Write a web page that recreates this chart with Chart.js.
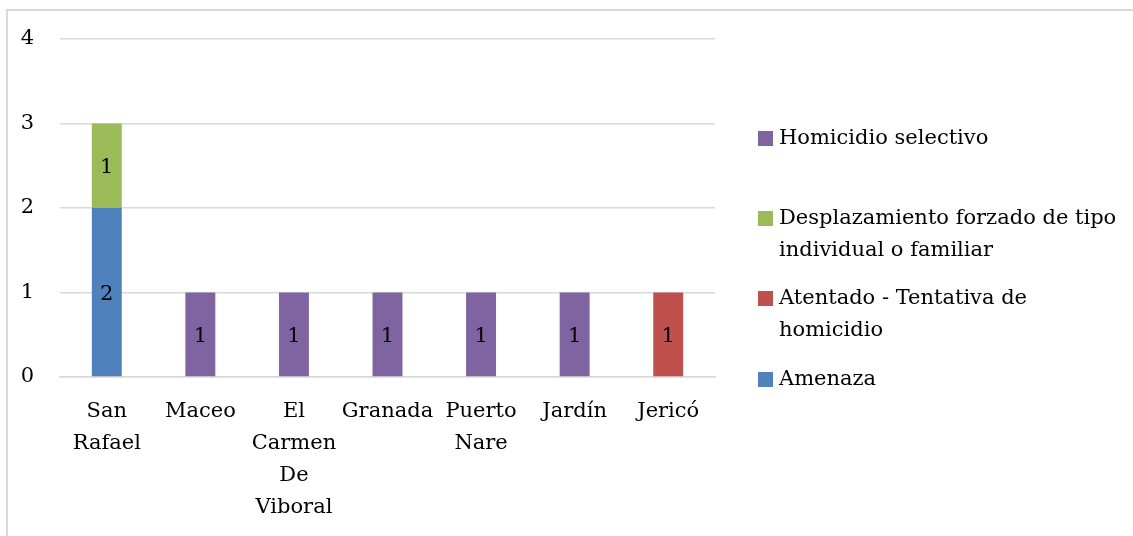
<!DOCTYPE html>
<html>
<head>
<meta charset="utf-8">
<script src="https://cdn.jsdelivr.net/npm/chart.js@4"></script>
<style>
  html, body { margin: 0; padding: 0; background: #fff; }
  #wrap { position: relative; width: 1133px; height: 536px; overflow: hidden; }
  #frame { position: absolute; left: 6px; top: 9px; width: 1200px; height: 600px;
           border-top: 2px solid #d9d9d9; border-left: 2px solid #d9d9d9; box-sizing: border-box; }
  canvas { position: absolute; left: 0; top: 0; }
</style>
</head>
<body>
<div id="wrap">
  <div id="frame"></div>
  <canvas id="c" width="1133" height="536"></canvas>
</div>
<script>
const categories = [["San","Rafael"], "Maceo", ["El","Carmen","De","Viboral"], "Granada", ["Puerto","Nare"], "Jardín", "Jericó"];
const amenaza = [2, 0, 0, 0, 0, 0, 0];
const atentado = [0, 0, 0, 0, 0, 0, 1];
const desplazamiento = [1, 0, 0, 0, 0, 0, 0];
const homicidio = [0, 1, 1, 1, 1, 1, 0];
const yTicks = [0, 1, 2, 3, 4];

const seriesNames = ["Amenaza", "Atentado - Tentativa de homicidio", "Desplazamiento forzado de tipo individual o familiar", "Homicidio selectivo"];
const legendLines = {
  "Homicidio selectivo": ["Homicidio selectivo"],
  "Desplazamiento forzado de tipo individual o familiar": ["Desplazamiento forzado de tipo", "individual o familiar"],
  "Atentado - Tentativa de homicidio": ["Atentado - Tentativa de", "homicidio"],
  "Amenaza": ["Amenaza"]
};
const colors = ["#4F81BD", "#C0504D", "#9BBB59", "#8064A2"];
const FONT = "'DejaVu Serif', serif";
const FS = 21;

const valueLabels = {
  id: 'valueLabels',
  afterDatasetsDraw(chart) {
    const ctx = chart.ctx;
    ctx.save();
    ctx.font = FS + "px " + FONT;
    ctx.fillStyle = "#000";
    ctx.textAlign = "center";
    ctx.textBaseline = "middle";
    chart.data.datasets.forEach((ds, i) => {
      const meta = chart.getDatasetMeta(i);
      meta.data.forEach((el, j) => {
        const v = ds.data[j];
        if (!v) return;
        const p = el.getProps(['x', 'y', 'base'], true);
        ctx.fillText(String(v), p.x, (p.y + p.base) / 2 + 2);
      });
    });
    ctx.restore();
  }
};

const customLegend = {
  id: 'customLegend',
  afterDraw(chart) {
    const ctx = chart.ctx;
    ctx.save();
    ctx.font = FS + "px " + FONT;
    ctx.textBaseline = "middle";
    ctx.textAlign = "left";
    const order = [3, 2, 1, 0];
    const startY = [138, 218, 298, 379];
    order.forEach((idx, k) => {
      const name = seriesNames[idx];
      const y = startY[k];
      ctx.fillStyle = colors[idx];
      ctx.fillRect(758, y - 7, 15, 15);
      ctx.fillStyle = "#000";
      legendLines[name].forEach((line, li) => {
        ctx.fillText(line, 779, y + li * 32 + 1);
      });
    });
    ctx.restore();
  }
};

const datasets = [amenaza, atentado, desplazamiento, homicidio].map((d, i) => ({
  label: seriesNames[i],
  data: d,
  backgroundColor: colors[i],
  borderWidth: 0,
  barPercentage: 0.32,
  categoryPercentage: 1.0
}));

new Chart(document.getElementById('c'), {
  type: 'bar',
  data: { labels: categories, datasets },
  plugins: [valueLabels, customLegend],
  options: {
    responsive: false,
    animation: false,
    events: [],
    layout: { padding: { left: 0, top: 39, right: 418, bottom: 0 } },
    plugins: { legend: { display: false }, tooltip: { enabled: false } },
    scales: {
      x: {
        stacked: true,
        grid: { display: false, drawTicks: false },
        border: { display: true, color: "#d9d9d9", width: 1.5 },
        ticks: { font: { family: FONT, size: FS, lineHeight: 1.52 }, color: "#000", padding: 19, maxRotation: 0, autoSkip: false },
        afterFit(scale) { scale.height = 536 - 377; }
      },
      y: {
        stacked: true,
        min: 0, max: 4,
        afterBuildTicks(scale) { scale.ticks = yTicks.map(v => ({ value: v })); },
        grid: { color: "#d9d9d9", lineWidth: 1.5, drawTicks: false },
        border: { display: false },
        ticks: { font: { family: FONT, size: FS }, color: "#000", padding: 26 },
        afterFit(scale) { scale.width = 60; }
      }
    }
  }
});
</script>
</body>
</html>
